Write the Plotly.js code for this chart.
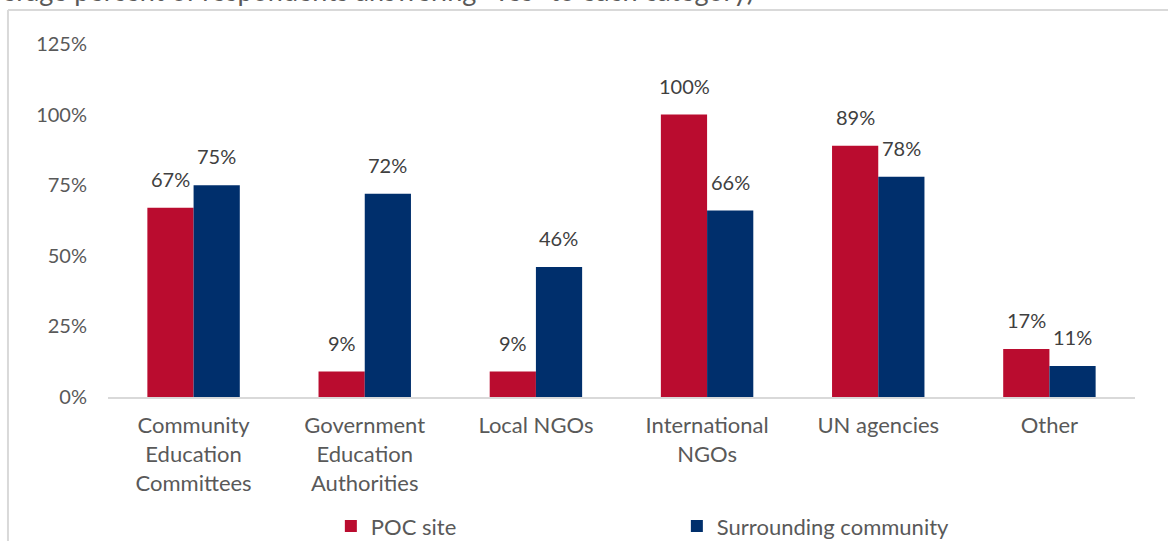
<!DOCTYPE html>
<html>
<head>
<meta charset="utf-8">
<script src="https://cdn.plot.ly/plotly-3.0.1.min.js"></script>
<style>html,body{margin:0;padding:0;background:#fff;}#chart{width:1168px;height:541px;}</style>
</head>
<body>
<div id="chart"></div>
<script>
var categories = ['Community<br>Education<br>Committees', 'Government<br>Education<br>Authorities', 'Local NGOs', 'International<br>NGOs', 'UN agencies', 'Other'];
var seriesNames = ['POC site', 'Surrounding community'];
var pocSite = [67, 9, 9, 100, 89, 17];
var surrounding = [75, 72, 46, 66, 78, 11];
var tickValues = [0, 25, 50, 75, 100, 125];
var tickLabels = ['0%', '25%', '50%', '75%', '100%', '125%'];
var titleText = 'erage percent of respondents answering "Yes" to each category)';

var FONT = 'Lato, "Open Sans", sans-serif';
var colors = ['#BA0C2F', '#002F6C'];

var traces = [pocSite, surrounding].map(function (vals, i) {
  return {
    type: 'bar', x: categories, y: vals, name: seriesNames[i],
    marker: {color: colors[i]}, hoverinfo: 'skip'
  };
});

var annotations = [];
[pocSite, surrounding].forEach(function (vals, i) {
  vals.forEach(function (v, j) {
    annotations.push({
      x: categories[j], y: v, xref: 'x', yref: 'y',
      text: v + '%', showarrow: false,
      xanchor: 'center', yanchor: 'bottom',
      xshift: i === 0 ? -23 : 23, yshift: 15,
      font: {family: FONT, size: 20, color: '#404040'}
    });
  });
});
annotations.push({
  xref: 'paper', yref: 'paper', x: -0.1052, y: 1.100,
  xanchor: 'left', yanchor: 'bottom', showarrow: false,
  text: titleText, font: {family: FONT, size: 27, color: '#595959'}
});

var layout = {
  width: 1168, height: 541,
  margin: {l: 108, r: 33, t: 44, b: 144, autoexpand: false},
  paper_bgcolor: '#ffffff', plot_bgcolor: '#ffffff',
  barmode: 'group', bargap: 0.46, bargroupgap: 0,
  font: {family: FONT, size: 20, color: '#595959'},
  xaxis: {
    showgrid: false, zeroline: false, showline: true,
    linecolor: '#d9d9d9', linewidth: 2, ticks: '',
    ticklabelstandoff: 8,
    tickfont: {family: FONT, size: 22, color: '#595959'}
  },
  yaxis: {
    range: [0, 125], tickvals: tickValues, ticktext: tickLabels,
    showgrid: false, zeroline: false, showline: false, ticks: '',
    ticklabelstandoff: 20,
    tickfont: {family: FONT, size: 20, color: '#595959'}
  },
  showlegend: true,
  legend: {
    orientation: 'h', x: 0.217, y: -0.366, xanchor: 'left', yanchor: 'middle',
    entrywidth: 301, entrywidthmode: 'pixels',
    font: {family: FONT, size: 22, color: '#595959'},
    bgcolor: 'rgba(0,0,0,0)'
  },
  annotations: annotations,
  shapes: [
    {type: 'line', xref: 'paper', yref: 'paper', x0: -0.0974, x1: -0.0974, y0: -0.45, y1: 1.0963,
     line: {color: '#d9d9d9', width: 2}},
    {type: 'line', xref: 'paper', yref: 'paper', x0: -0.0974, x1: 1.1, y0: 1.0963, y1: 1.0963,
     line: {color: '#d9d9d9', width: 2}}
  ]
};

Plotly.newPlot('chart', traces, layout, {displayModeBar: false, staticPlot: true});
</script>
</body>
</html>
